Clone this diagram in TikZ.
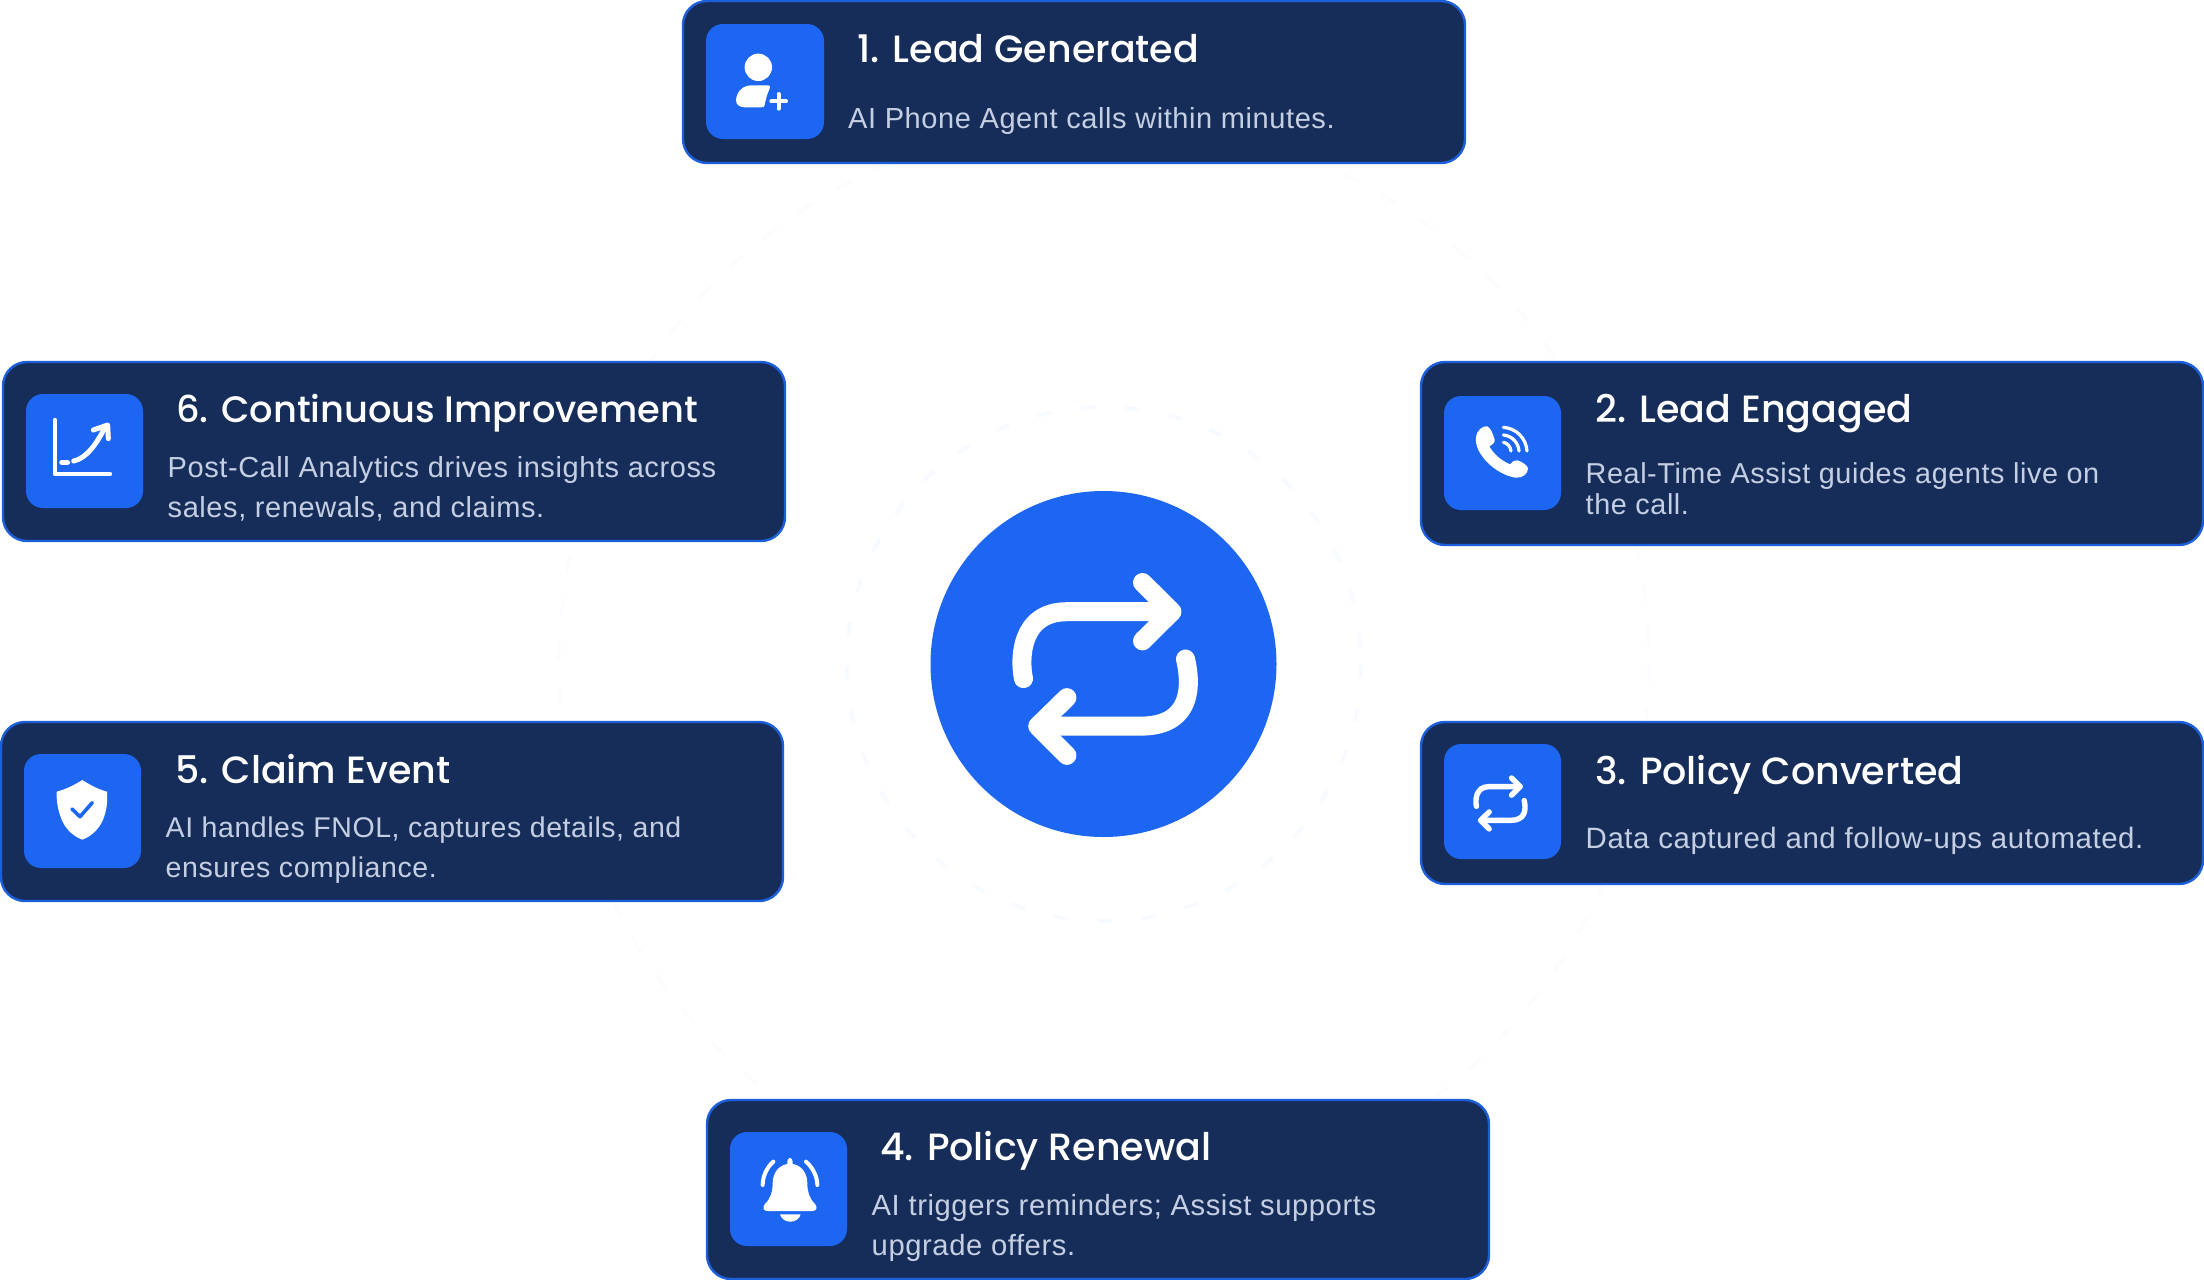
\documentclass[tikz,border=0pt]{standalone}
\usepackage{fontspec}
\newfontfamily\titlef{Poppins Medium}
\newfontfamily\bodyf{Liberation Sans}[LetterSpace=2]
\definecolor{navy}{HTML}{172D59}
\definecolor{edgeblue}{HTML}{1C5FDB}
\definecolor{brand}{HTML}{1D66F2}
\definecolor{bodytext}{HTML}{C5CFE3}
\definecolor{ringpale}{HTML}{F7FAFF}
\definecolor{ringfaint}{HTML}{FBFCFF}
\tikzset{
  x=1pt,y=-1pt,
  card/.style={fill=navy,draw=edgeblue,line width=2.4pt,rounded corners=24pt},
  tile/.style={fill=brand,rounded corners=17pt},
  cardtitle/.style={anchor=base west,inner sep=0pt,text=white,font=\titlef\fontsize{38}{44}\selectfont},
  cardbody/.style={anchor=base west,inner sep=0pt,text=bodytext,font=\bodyf\fontsize{29}{34}\selectfont},
  iconline/.style={draw=white,line cap=round,line join=round},
  iconfill/.style={fill=white,line join=round},
  zoomed/.style={shift={#1},x=.33333pt,y=-.33333pt}
}
\newcommand{\twolines}[3]{\vtop{\baselineskip=#3pt\hbox{#1}\hbox{#2}}}
\newcommand{\loopicon}{%
  \draw[iconline] (-80,14.6) .. controls (-84,-4) and (-84,-52.3) .. (-36.6,-52.3) -- (68,-52.3);
  \draw[iconline] (39,-81.5) -- (68.4,-52.3) -- (39,-23.1);
  \draw[iconline] (82,-5) .. controls (90,30) and (83,62.1) .. (37.4,62.1) -- (-64,62.1);
  \draw[iconline] (-36.6,33.6) -- (-65.8,62.1) -- (-36.6,91.4);
}
\begin{document}
\begin{tikzpicture}
\useasboundingbox (0,0) rectangle (2204,1280);
\fill[white] (0,0) rectangle (2204,1280);

% faint dashed rings
\draw[ringfaint,line width=3pt,dash pattern=on 18pt off 26pt] (1104,664) circle[radius=545];
\draw[ringpale,line width=4pt,dash pattern=on 14pt off 30pt] (1104,664) circle[radius=257];

% central disc
\node[circle,fill=brand,minimum size=346pt,inner sep=0pt] (hub) at (1103.5,664) {};
\begin{scope}[shift={(hub.center)},x=1pt,y=-1pt,line width=19pt]
  \loopicon
\end{scope}

% cards
\draw[card] (683,1) rectangle (1465,163);
\draw[card] (1421,362) rectangle (2203,545);
\draw[card] (1421,722) rectangle (2203,884);
\draw[card] (707,1100) rectangle (1489,1279);
\draw[card] (1,722) rectangle (783,901);
\draw[card] (3,362) rectangle (785,541);

% tiles
\fill[tile] (706,24) rectangle (824,139);
\fill[tile] (1444,396) rectangle (1561,510);
\fill[tile] (1444,744) rectangle (1561,859);
\fill[tile] (730,1132) rectangle (847,1246);
\fill[tile] (24,754) rectangle (141,868);
\fill[tile] (26,394) rectangle (143,508);

% texts
\node[cardtitle] (t1) at (857,62) {1. Lead Generated};
\node[cardbody] (b1) at (848,128) {AI Phone Agent calls within minutes.};
\node[cardtitle] (t2) at (1595,422) {2. Lead Engaged};
\node[cardbody,font=\bodyf\fontsize{28.8}{34}\selectfont] (b2) at (1585.5,483) {\twolines{Real-Time Assist guides agents live on}{the call.}{31}};
\node[cardtitle] (t3) at (1595,784) {3. Policy Converted};
\node[cardbody,font=\bodyf\fontsize{29.4}{34}\selectfont] (b3) at (1585.5,848) {Data captured and follow-ups automated.};
\node[cardtitle] (t4) at (880,1160.5) {4. Policy Renewal};
\node[cardbody,font=\bodyf\fontsize{29.2}{34}\selectfont] (b4) at (871.5,1215.5) {\twolines{AI triggers reminders; Assist supports}{upgrade offers.}{40}};
\node[cardtitle] (t5) at (175,783) {5. Claim Event};
\node[cardbody,font=\bodyf\fontsize{28.5}{34}\selectfont] (b5) at (165.5,837) {\twolines{AI handles FNOL, captures details, and}{ensures compliance.}{40}};
\node[cardtitle,font=\titlef\fontsize{36.8}{44}\selectfont] (t6) at (176,422) {6. Continuous Improvement};
\node[cardbody] (b6) at (167.5,477) {\twolines{Post-Call Analytics drives insights across}{sales, renewals, and claims.}{40}};

% icon 1: person with plus
\begin{scope}[zoomed={(690,10)}]
  \fill[white] (205,172) circle[radius=13.7pt];
  \fill[white] (138,270) .. controls (140,245) and (158,226) .. (185,226) -- (235,226)
    .. controls (242,226) and (241,232) .. (238,238)
    .. controls (230,255) and (226,275) .. (224,285)
    .. controls (223,291) and (220,292) .. (214,292) -- (165,292)
    .. controls (148,292) and (138,284) .. (138,270) -- cycle;
  \draw[iconline,line width=4pt] (266,252) -- (266,296) (244,274) -- (288,274);
\end{scope}

% icon 2: phone with signal arcs
\begin{scope}[zoomed={(1430,385)}]
  \fill[white] (138,158) .. controls (140,135) and (158,122) .. (172,124)
    .. controls (182,128) and (190,150) .. (194,164)
    .. controls (196,172) and (188,178) .. (178,184)
    .. controls (190,205) and (210,225) .. (240,238)
    .. controls (246,230) and (254,224) .. (262,226)
    .. controls (275,230) and (292,240) .. (294,250)
    .. controls (294,268) and (276,280) .. (256,278)
    .. controls (195,268) and (132,205) .. (138,158) -- cycle;
  \draw[iconline,line width=3.2pt]
    (220,127) .. controls (260,130) and (288,160) .. (291,198)
    (220,150) .. controls (245,152) and (265,172) .. (267,198)
    (220,172) .. controls (232,174) and (241,184) .. (243,198);
\end{scope}

% icon 3: loop
\begin{scope}[shift={(1500,802)},x=.295pt,y=-.295pt,line width=5.4pt]
  \loopicon
\end{scope}

% icon 4: bell
\begin{scope}[zoomed={(720,1120)}]
  \fill[white] (210,113) .. controls (216,113) and (218,120) .. (218,132)
    .. controls (245,136) and (262,160) .. (262,190)
    .. controls (262,215) and (268,235) .. (285,252)
    .. controls (294,262) and (290,273) .. (278,273) -- (142,273)
    .. controls (130,273) and (126,262) .. (135,252)
    .. controls (152,235) and (158,215) .. (158,190)
    .. controls (158,160) and (175,136) .. (202,132)
    .. controls (202,120) and (204,113) .. (210,113) -- cycle;
  \fill[white] (180,283) -- (242,283) .. controls (238,298) and (224,305) .. (211,305)
    .. controls (198,305) and (184,298) .. (180,283) -- cycle;
  \draw[iconline,line width=4pt]
    (160,125) .. controls (140,142) and (128,170) .. (128,195)
    (258,125) .. controls (278,142) and (292,170) .. (292,195);
\end{scope}

% icon 5: shield with check
\begin{scope}[zoomed={(15,740)}]
  \fill[white] (202,120) .. controls (225,135) and (250,148) .. (276,155)
    .. controls (278,180) and (276,205) .. (268,228)
    .. controls (258,262) and (232,288) .. (202,299)
    .. controls (172,288) and (146,262) .. (136,228)
    .. controls (128,205) and (124,180) .. (125,155)
    .. controls (152,148) and (178,135) .. (202,120) -- cycle;
  \draw[draw=brand,line cap=round,line join=round,line width=3.6pt]
    (171,207) -- (195,230) -- (232,188);
\end{scope}

% icon 6: rising chart
\begin{scope}[zoomed={(15,380)}]
  \draw[iconline,line width=4.4pt] (120,120) -- (120,282) -- (285,282);
  \draw[iconline,line width=5.6pt] (141,247) -- (157,247);
  \draw[iconline,line width=5pt] (176,243) .. controls (215,235) and (245,190) .. (268,146);
  \draw[iconline,line width=5pt] (235,150) -- (278,135) -- (280,176);
\end{scope}
\end{tikzpicture}
\end{document}
